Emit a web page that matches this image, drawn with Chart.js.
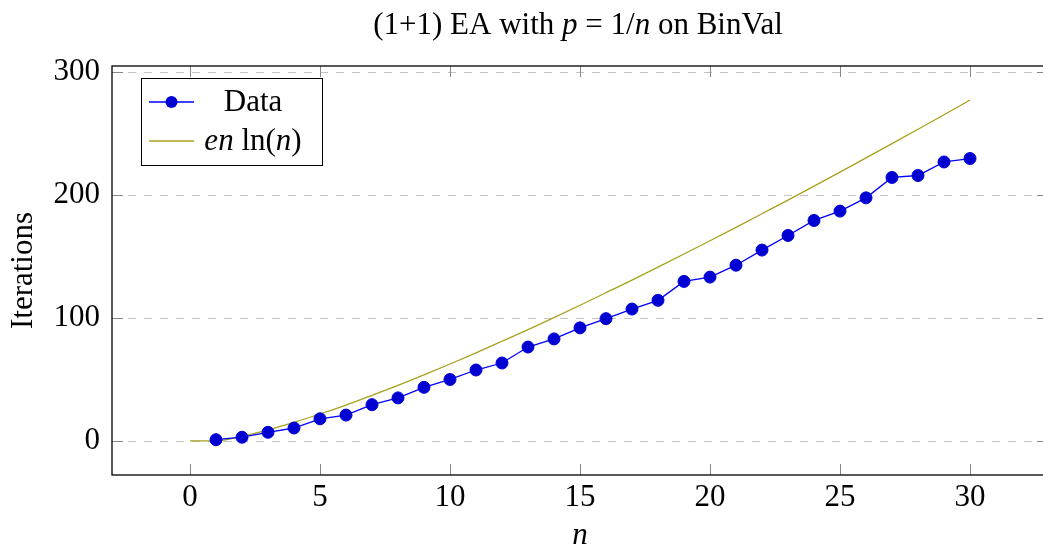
<!DOCTYPE html>
<html>
<head>
<meta charset="utf-8">
<script src="https://cdn.jsdelivr.net/npm/chart.js@4.4.1/dist/chart.umd.min.js"></script>
<style>
  html, body { margin: 0; padding: 0; background: #fff; overflow: hidden; }
  #wrap { width: 1060px; height: 548px; }
</style>
</head>
<body>
<div id="wrap"><canvas id="chart"></canvas></div>
<script>
// values
const nValues = [1, 2, 3, 4, 5, 6, 7, 8, 9, 10, 11, 12, 13, 14, 15,
                 16, 17, 18, 19, 20, 21, 22, 23, 24, 25, 26, 27, 28, 29, 30];
const iterations = [1, 3, 7, 10.5, 18, 21, 29.5, 35, 43.6, 50, 57.7, 63.4, 76.4, 83, 92,
                    99.5, 107.3, 114.4, 129.8, 133.3, 143, 155.3, 167.2, 179.4, 187, 197.8, 214.4, 216, 227, 229.8];
const curveN = [0, 1, 2, 3, 4, 5, 6, 7, 8, 9, 10, 11, 12, 13, 14, 15,
                16, 17, 18, 19, 20, 21, 22, 23, 24, 25, 26, 27, 28, 29, 30];
const curveValues = [0, 0, 3.8, 9, 15.1, 21.9, 29.2, 37, 45.2, 53.8, 62.6, 71.7, 81.1, 90.6, 100.4, 110.4,
                     120.6, 130.9, 141.4, 152.1, 162.9, 173.8, 184.9, 196, 207.3, 218.7, 230.3, 241.9, 253.6, 265.4, 277.4];
const xTicks = [0, 5, 10, 15, 20, 25, 30];
const yTicks = [0, 100, 200, 300];

const serif = '"Liberation Serif", "Times New Roman", serif';
const FS = 31;

// draw a run of [text, italic] pieces starting at x
function drawParts(ctx, parts, x, y, align) {
    const widths = parts.map(p => {
        ctx.font = (p[1] ? 'italic ' : '') + FS + 'px ' + serif;
        return ctx.measureText(p[0]).width;
    });
    const total = widths.reduce((a, b) => a + b, 0);
    let cx = align === 'center' ? x - total / 2 : x;
    parts.forEach((p, i) => {
        ctx.font = (p[1] ? 'italic ' : '') + FS + 'px ' + serif;
        ctx.fillText(p[0], cx, y);
        cx += widths[i];
    });
}

const titleParts = [['(1+1) EA with ', false], ['p', true], [' = 1/', false], ['n', true], [' on BinVal', false]];
const legendParts = [
    [['Data', false]],
    [['en', true], [' ln(', false], ['n', true], [')', false]]
];

const framePlugin = {
    id: 'frame',
    beforeDatasetsDraw(chart) {
        const {ctx, chartArea: a, scales: {y}} = chart;
        ctx.save();
        ctx.strokeStyle = '#c4c4c4';
        ctx.lineWidth = 1;
        ctx.setLineDash([8, 8]);
        yTicks.forEach(v => {
            const py = Math.round(y.getPixelForValue(v)) + 0.5;
            ctx.beginPath();
            ctx.moveTo(a.left, py);
            ctx.lineTo(a.right, py);
            ctx.stroke();
        });
        ctx.restore();
    },
    afterDatasetsDraw(chart) {
        const {ctx, chartArea: a, scales: {x, y}} = chart;
        ctx.save();
        ctx.strokeStyle = '#888';
        ctx.lineWidth = 1;
        const tl = 11;
        xTicks.forEach(v => {
            const px = Math.round(x.getPixelForValue(v)) + 0.5;
            ctx.beginPath();
            ctx.moveTo(px, a.bottom); ctx.lineTo(px, a.bottom - tl);
            ctx.moveTo(px, a.top); ctx.lineTo(px, a.top + tl);
            ctx.stroke();
        });
        yTicks.forEach(v => {
            const py = Math.round(y.getPixelForValue(v)) + 0.5;
            ctx.beginPath();
            ctx.moveTo(a.left, py); ctx.lineTo(a.left + tl, py);
            ctx.moveTo(a.right, py); ctx.lineTo(a.right - tl, py);
            ctx.stroke();
        });
        ctx.strokeStyle = '#000';
        ctx.lineWidth = 1.3;
        ctx.strokeRect(a.left, a.top, a.right - a.left, a.bottom - a.top);

        // legend
        const bx = 141, by = 78, bw = 181, bh = 87;
        ctx.fillStyle = '#fff';
        ctx.fillRect(bx, by, bw, bh);
        ctx.strokeStyle = '#000';
        ctx.lineWidth = 1;
        ctx.strokeRect(bx + 0.5, by + 0.5, bw, bh);
        chart.data.datasets.forEach((ds, i) => {
            const ly = 102 + i * 39;
            ctx.strokeStyle = ds.borderColor;
            ctx.lineWidth = ds.borderWidth;
            ctx.beginPath();
            ctx.moveTo(149, ly); ctx.lineTo(194, ly);
            ctx.stroke();
            if (ds.pointRadius > 0) {
                ctx.fillStyle = ds.pointBackgroundColor;
                ctx.beginPath();
                ctx.arc(171.5, ly, ds.pointRadius, 0, Math.PI * 2);
                ctx.fill();
            }
            ctx.fillStyle = '#000';
            ctx.textBaseline = 'alphabetic';
            drawParts(ctx, legendParts[i], 253, ly + 9, 'center');
        });

        // title
        ctx.fillStyle = '#000';
        ctx.textBaseline = 'alphabetic';
        drawParts(ctx, titleParts, 578, 34, 'center');
        ctx.restore();
    }
};

new Chart(document.getElementById('chart'), {
    type: 'line',
    data: {
        datasets: [
            {
                label: 'Data',
                data: nValues.map((n, i) => ({x: n, y: iterations[i]})),
                borderColor: 'rgb(0, 0, 255)',
                borderWidth: 1.3,
                pointRadius: 6,
                pointBackgroundColor: 'rgb(0, 0, 210)',
                pointBorderColor: 'rgb(0, 0, 210)',
                pointBorderWidth: 1,
                tension: 0,
                order: 1
            },
            {
                label: 'en ln(n)',
                data: curveN.map((n, i) => ({x: n, y: curveValues[i]})),
                borderColor: 'rgb(168, 160, 30)',
                borderWidth: 1.3,
                pointRadius: 0,
                cubicInterpolationMode: 'monotone',
                order: 2
            }
        ]
    },
    options: {
        responsive: true,
        maintainAspectRatio: false,
        animation: false,
        layout: { padding: { top: 66, right: 12, left: 0, bottom: 0 } },
        plugins: { legend: { display: false }, tooltip: { enabled: false } },
        scales: {
            x: {
                type: 'linear',
                min: -3,
                max: 33,
                afterBuildTicks: s => { s.ticks = xTicks.map(v => ({value: v})); },
                afterFit: s => { s.height = 73; },
                grid: { display: false, drawTicks: false },
                border: { display: false },
                ticks: { color: '#000', padding: 4, font: { family: serif, size: FS, lineHeight: 1.2 } },
                title: {
                    display: true, text: 'n', color: '#000',
                    font: { family: serif, size: FS, style: 'italic', lineHeight: 0.8 },
                    padding: { top: 0, bottom: 0 }
                }
            },
            y: {
                min: -27.74,
                max: 305.1,
                afterBuildTicks: s => { s.ticks = yTicks.map(v => ({value: v})); },
                afterFit: s => { s.width = 112; },
                grid: { display: false, drawTicks: false },
                border: { display: false },
                ticks: { color: '#000', padding: 12, font: { family: serif, size: FS, lineHeight: 1.2 } },
                title: {
                    display: true, text: 'Iterations', color: '#000',
                    font: { family: serif, size: FS, lineHeight: 1 },
                    padding: { top: 8, bottom: 0 }
                }
            }
        }
    },
    plugins: [framePlugin]
});
</script>
</body>
</html>
